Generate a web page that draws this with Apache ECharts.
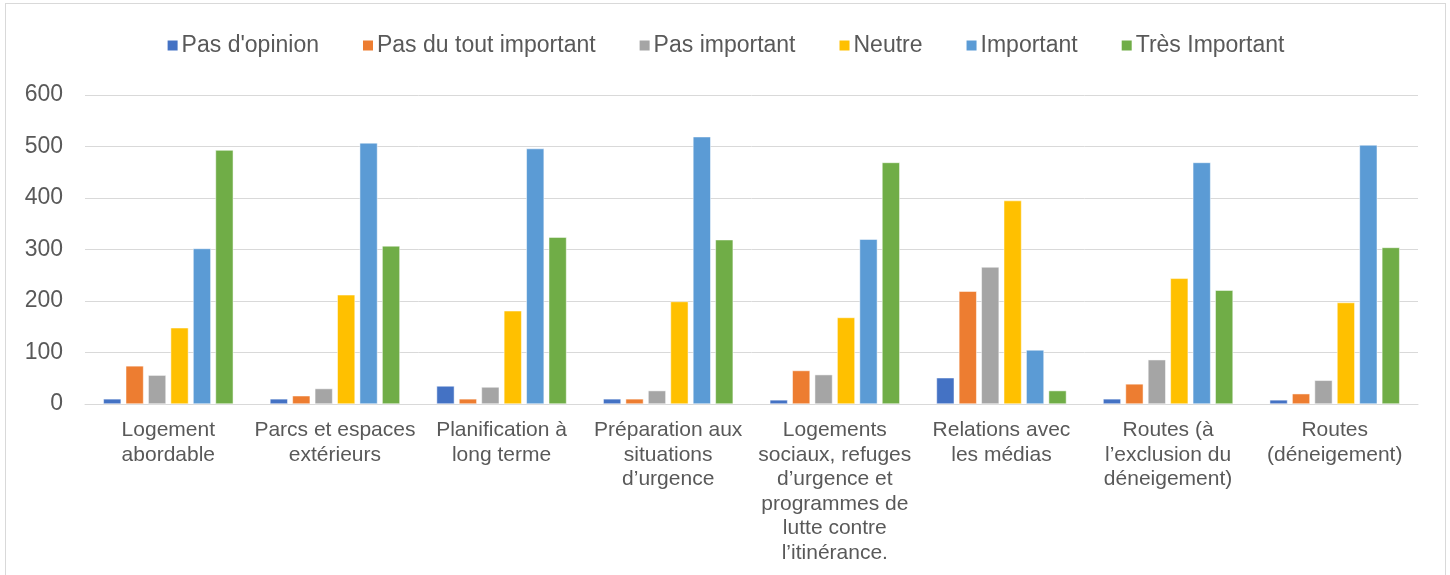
<!DOCTYPE html>
<html>
<head>
<meta charset="utf-8">
<script src="https://cdn.jsdelivr.net/npm/echarts@6/dist/echarts.min.js"></script>
<style>
  html, body { margin: 0; padding: 0; background: #fff; }
  #frame {
    position: absolute; left: 5px; top: 3px; width: 1441px; height: 620px;
    border: 1px solid #d9d9d9; box-sizing: border-box;
  }
  #chart { position: absolute; left: 0; top: 0; width: 1450px; height: 575px; }
</style>
</head>
<body>
<div id="frame"></div>
<div id="chart"></div>
<script>
// catégories (retours à la ligne comme dans le graphique Excel d'origine)
const categories = [
  'Logement\nabordable',
  'Parcs et espaces\nextérieurs',
  'Planification à\nlong terme',
  'Préparation aux\nsituations\nd’urgence',
  'Logements\nsociaux, refuges\nd’urgence et\nprogrammes de\nlutte contre\nl’itinérance.',
  'Relations avec\nles médias',
  'Routes (à\nl’exclusion du\ndéneigement)',
  'Routes\n(déneigement)',
]

const seriesNames = ["Pas d'opinion", 'Pas du tout important', 'Pas important', 'Neutre', 'Important', 'Très Important']
const seriesColors = ['#4472C4', '#ED7D31', '#A5A5A5', '#FFC000', '#5B9BD5', '#70AD47']

// valeurs
const pasOpinion = [10, 10, 35, 10, 8, 51, 10, 8]
const pasDuToutImportant = [74, 16, 10, 10, 65, 219, 39, 20]
const pasImportant = [56, 30, 33, 26, 57, 266, 86, 46]
const neutre = [148, 212, 181, 199, 168, 395, 244, 197]
const important = [302, 507, 496, 519, 320, 105, 469, 503]
const tresImportant = [493, 307, 324, 319, 469, 26, 221, 304]

const yTicks = { min: 0, max: 600, interval: 100 }

const values = [pasOpinion, pasDuToutImportant, pasImportant, neutre, important, tresImportant]
const font = "'Liberation Sans', Arial, sans-serif"

const chart = echarts.init(document.getElementById('chart'))
chart.setOption({
  animation: false,
  textStyle: { fontFamily: font },
  color: seriesColors,
  legend: {
    top: 29,
    left: 'center',
    icon: 'rect',
    itemWidth: 12,
    itemHeight: 12,
    itemGap: 42,
    textStyle: { fontSize: 23, color: '#595959', fontFamily: font, padding: [0, 0, 0, -2] },
    data: seriesNames,
  },
  grid: { left: 85, right: 32, top: 95, bottom: 171, containLabel: false },
  xAxis: {
    type: 'category',
    data: categories,
    axisLine: { lineStyle: { color: '#d9d9d9', width: 1 } },
    axisTick: { show: false },
    axisLabel: {
      interval: 0,
      fontSize: 21,
      lineHeight: 24.6,
      color: '#595959',
      margin: 14,
      align: 'center',
    },
  },
  yAxis: {
    type: 'value',
    min: yTicks.min,
    max: yTicks.max,
    interval: yTicks.interval,
    axisLine: { show: false },
    axisTick: { show: false },
    axisLabel: { fontSize: 23, color: '#595959', margin: 22 },
    splitLine: { lineStyle: { color: '#d9d9d9', width: 1 } },
  },
  series: seriesNames.map((name, i) => ({
    name,
    type: 'bar',
    data: values[i],
    barGap: '26%',
    barCategoryGap: '22%',
    itemStyle: { color: seriesColors[i], borderColor: '#fff', borderWidth: 0.5 },
  })),
})
</script>
</body>
</html>
